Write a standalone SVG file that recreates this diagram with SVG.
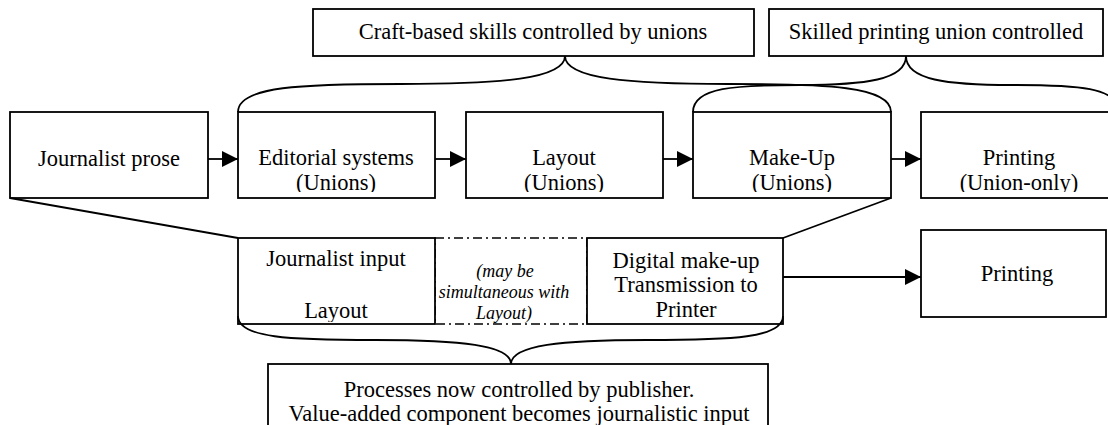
<svg xmlns="http://www.w3.org/2000/svg" width="1108" height="425" viewBox="0 0 1108 425" font-family="'Liberation Serif', 'Times New Roman', Times, serif">
  <style>
    .box { fill: #fff; stroke: #000; stroke-width: 1.8; }
    .dash { fill: #fff; stroke: #000; stroke-width: 1.6; stroke-dasharray: 9 4 2 4; }
    .line { fill: none; stroke: #000; stroke-width: 1.8; }
    .brace { fill: none; stroke: #000; stroke-width: 1.8; }
    text { font-family: 'Liberation Serif', 'Times New Roman', Times, serif; }
    .t { font-size: 22.5px; fill: #000; text-anchor: middle; }
    .it { font-size: 18px; font-style: italic; fill: #000; text-anchor: middle; }
  </style>
  <defs>
    <marker id="arrow" viewBox="0 0 16 16" refX="16" refY="8" markerWidth="16" markerHeight="16" markerUnits="userSpaceOnUse" orient="auto">
      <path d="M0,0 L16,8 L0,16 Z" fill="#000"/>
    </marker>
    <clipPath id="rowClip"><rect x="0" y="112" width="1108" height="80"/></clipPath>
    <clipPath id="lowClip"><rect x="238" y="238" width="200" height="84"/></clipPath>
  </defs>

  <rect width="1108" height="425" fill="#fff"/>

  <!-- top labels -->
  <g id="craft-label">
    <rect class="box" x="313" y="9" width="441" height="47"/>
    <text class="t" x="533" y="39">Craft-based skills controlled by unions</text>
  </g>
  <g id="printing-union-label">
    <rect class="box" x="769" y="9" width="334" height="47"/>
    <text class="t" x="936" y="39">Skilled printing union controlled</text>
  </g>

  <!-- traditional process row -->
  <g id="journalist-prose">
    <rect class="box" x="10" y="112" width="198" height="86"/>
    <text class="t" x="109" y="166">Journalist prose</text>
  </g>
  <g id="editorial">
    <rect class="box" x="238" y="112" width="197" height="86"/>
    <g clip-path="url(#rowClip)">
      <text class="t" x="336" y="165">Editorial systems</text>
      <text class="t" x="336" y="190">(Unions)</text>
    </g>
  </g>
  <g id="layout">
    <rect class="box" x="466" y="112" width="197" height="86"/>
    <g clip-path="url(#rowClip)">
      <text class="t" x="564" y="165">Layout</text>
      <text class="t" x="564" y="190">(Unions)</text>
    </g>
  </g>
  <g id="make-up">
    <rect class="box" x="693" y="112" width="198" height="86"/>
    <g clip-path="url(#rowClip)">
      <text class="t" x="792" y="165">Make-Up</text>
      <text class="t" x="792" y="190">(Unions)</text>
    </g>
  </g>
  <g id="printing-union">
    <rect class="box" x="921" y="112" width="197" height="86"/>
    <g clip-path="url(#rowClip)">
      <text class="t" x="1019" y="165">Printing</text>
      <text class="t" x="1019" y="190">(Union-only)</text>
    </g>
  </g>

  <!-- digital process row -->
  <g id="simultaneous-note">
    <rect class="dash" x="435" y="238" width="152" height="86"/>
    <text class="it" x="505" y="277">(may be</text>
    <text class="it" x="504" y="298">simultaneous with</text>
    <text class="it" x="504" y="319">Layout)</text>
  </g>
  <g id="journalist-input">
    <rect class="box" x="238" y="238" width="197" height="86"/>
    <g clip-path="url(#lowClip)">
      <text class="t" x="336" y="266">Journalist input</text>
      <text class="t" x="336" y="318">Layout</text>
    </g>
  </g>
  <g id="digital-make-up">
    <rect class="box" x="587" y="238" width="196" height="86"/>
    <text class="t" x="686" y="268">Digital make-up</text>
    <text class="t" x="686" y="292">Transmission to</text>
    <text class="t" x="686" y="317">Printer</text>
  </g>
  <g id="printing-digital">
    <rect class="box" x="921" y="230" width="185" height="87"/>
    <text class="t" x="1017" y="281">Printing</text>
  </g>

  <!-- bottom label -->
  <g id="publisher-label">
    <rect class="box" x="268" y="364" width="500" height="80"/>
    <text class="t" x="519" y="397">Processes now controlled by publisher.</text>
    <text class="t" x="519" y="421">Value-added component becomes journalistic input</text>
  </g>

  <!-- connectors -->
  <g id="connectors">
    <line class="line" x1="208" y1="159" x2="238" y2="159" marker-end="url(#arrow)"/>
    <line class="line" x1="435" y1="159" x2="466" y2="159" marker-end="url(#arrow)"/>
    <line class="line" x1="663" y1="159" x2="693" y2="159" marker-end="url(#arrow)"/>
    <line class="line" x1="891" y1="159" x2="921" y2="159" marker-end="url(#arrow)"/>
    <line class="line" x1="783" y1="277" x2="921" y2="277" marker-end="url(#arrow)"/>

    <line class="line" x1="10" y1="198" x2="238" y2="238"/>
    <line class="line" x1="891" y1="198" x2="783" y2="238"/>

    <!-- craft brace over editorial .. make-up -->
    <path class="brace" d="M238,112 C238,86 303,84 401,84 C500,84 565,79 565,56 C565,79 630,84 728,84 C826,84 891,86 891,112"/>
    <!-- printing brace over make-up .. printing -->
    <path class="brace" d="M693,112 C693,87 736,85 800,85 C865,85 906,80 906,56 C906,80 947,85 1012,85 C1077,85 1119,87 1119,112"/>
    <!-- publisher brace under digital row -->
    <path class="brace" d="M238,316 C238,338 290,340 375,340 C460,340 511,345 511,364 C511,345 562,340 647,340 C732,340 783,338 783,316"/>
  </g>
</svg>
